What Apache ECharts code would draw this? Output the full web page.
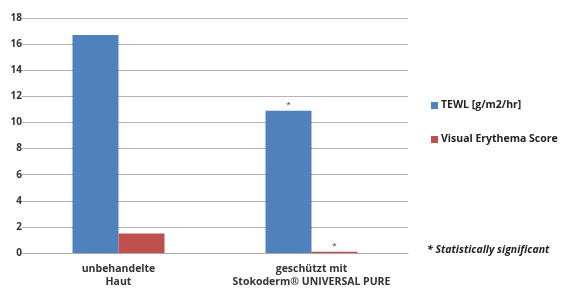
<!DOCTYPE html>
<html>
<head>
<meta charset="utf-8">
<script src="https://cdn.jsdelivr.net/npm/echarts@6/dist/echarts.min.js"></script>
<style>
  html, body { margin: 0; padding: 0; background: #fff; }
  #main { width: 563px; height: 289px; }
</style>
</head>
<body>
<div id="main"></div>
<script>
// chart data
const categories = ['unbehandelte\nHaut', 'geschützt mit\nStokoderm® UNIVERSAL PURE'];
const tewl = [16.7, 10.9];
const erythema = [1.5, 0.1];
const tewlMarks = ['', '*'];
const erythemaMarks = ['', '*'];
const seriesNames = ['TEWL [g/m2/hr]', 'Visual Erythema Score'];
const footnote = '* Statistically significant';

const font = '"Open Sans", sans-serif';

const withMarks = (vals, marks) => vals.map((v, i) => ({
    value: v,
    label: { show: marks[i] !== '', formatter: marks[i] }
}));

const chart = echarts.init(document.getElementById('main'));
chart.setOption({
    animation: false,
    textStyle: { fontFamily: font },
    grid: { left: 22, right: 155, top: 18, bottom: 35 },
    legend: {
        orient: 'vertical',
        left: 426,
        top: 95,
        itemWidth: 7,
        itemHeight: 7,
        itemGap: 23,
        icon: 'rect',
        textStyle: { fontFamily: font, fontSize: 10.5, fontWeight: 'bold', color: '#222', padding: [0, 0, 0, -2] },
        data: seriesNames
    },
    xAxis: {
        type: 'category',
        data: categories,
        axisTick: { show: false },
        axisLine: { lineStyle: { color: '#aaa' } },
        axisLabel: { interval: 0, fontFamily: font, fontSize: 10.5, fontWeight: 'bold', color: '#333', lineHeight: 13, margin: 10 }
    },
    yAxis: {
        type: 'value',
        min: 0,
        max: 18,
        interval: 2,
        axisLine: { show: false },
        axisTick: { show: false },
        axisLabel: { fontFamily: font, fontSize: 10, fontWeight: 'bold', color: '#333', margin: 0 },
        splitLine: { lineStyle: { color: '#b5b5b5' } }
    },
    series: [
        {
            name: seriesNames[0],
            type: 'bar',
            data: withMarks(tewl, tewlMarks),
            barWidth: 46,
            barGap: '0%',
            itemStyle: { color: '#4F81BD' },
            label: { position: 'top', fontSize: 8, color: '#333', distance: 2 }
        },
        {
            name: seriesNames[1],
            type: 'bar',
            data: withMarks(erythema, erythemaMarks),
            barWidth: 46,
            itemStyle: { color: '#C0504D' },
            label: { position: 'top', fontSize: 8, color: '#333', distance: 2 }
        }
    ],
    graphic: [{
        type: 'text',
        left: 427,
        top: 245,
        style: {
            text: footnote,
            fontFamily: font,
            fontSize: 10.5,
            fontWeight: 'bold',
            fontStyle: 'italic',
            fill: '#222'
        }
    }]
});
</script>
</body>
</html>
